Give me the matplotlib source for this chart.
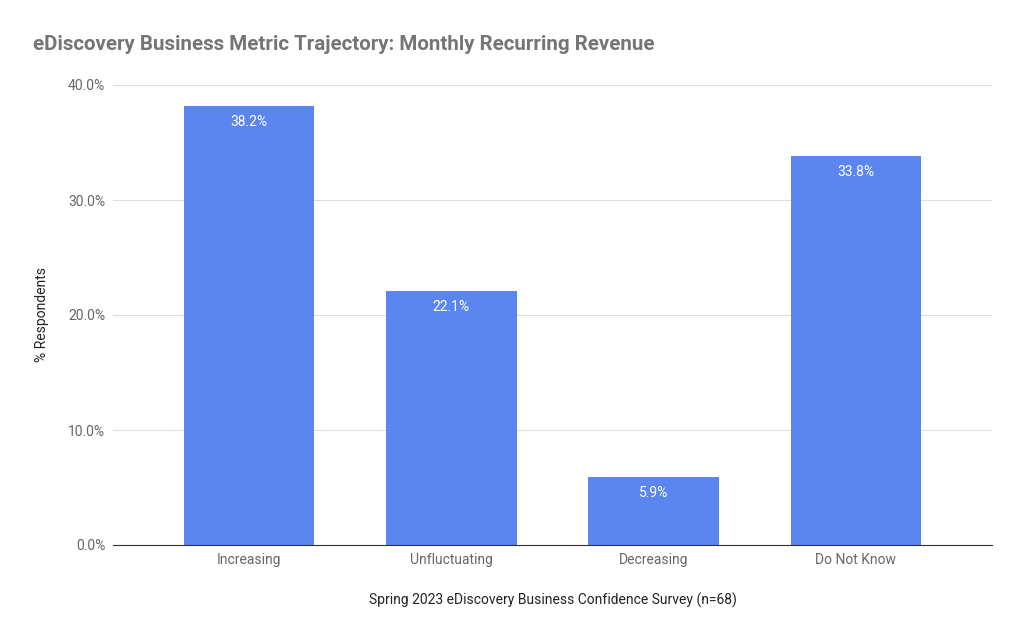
import matplotlib
matplotlib.use("Agg")
import matplotlib.pyplot as plt
from matplotlib.ticker import FuncFormatter

categories = ["Increasing", "Unfluctuating", "Decreasing", "Do Not Know"]
values = [38.2, 22.1, 5.9, 33.8]
yticks = [0, 10, 20, 30, 40]

plt.rcParams['font.family'] = ['Roboto', 'DejaVu Sans']

fig = plt.figure(figsize=(10.24, 6.34), dpi=100)
ax = fig.add_axes([113/1024, 1-545/634, (992-113)/1024, (545-85)/634])

x = list(range(len(categories)))
bars = ax.bar(x, values, width=0.644, color="#5b85ef", zorder=3)
for xi, v in zip(x, values):
    ax.annotate(f"{v:.1f}%", (xi, v), xytext=(0, -6.5), textcoords="offset points",
                ha="center", va="top", color="white", fontsize=10, zorder=4)

ax.set_xlim(-136/202, 3 + 136/202)
ax.set_ylim(0, 40)
ax.set_yticks(yticks)
ax.yaxis.set_major_formatter(FuncFormatter(lambda v, p: f"{v:.1f}%"))
ax.set_xticks(x)
ax.set_xticklabels(categories)
ax.grid(axis="y", color="#dddddd", linewidth=0.8, zorder=0)
for s in ["top", "right", "left"]:
    ax.spines[s].set_visible(False)
ax.spines["bottom"].set_color("#333333")
ax.spines["bottom"].set_linewidth(0.8)
ax.spines["bottom"].set_zorder(5)
ax.tick_params(axis="both", length=0, labelsize=10, labelcolor="#666666")
ax.tick_params(axis="y", pad=5.5)
ax.tick_params(axis="x", pad=6)

ax.set_xlabel("Spring 2023 eDiscovery Business Confidence Survey (n=68)", fontsize=10,
              color="#222222", labelpad=18)
ax.set_ylabel("% Respondents", fontsize=10, color="#222222", labelpad=14)

fig.text(33/1024, 1-45/634, "eDiscovery Business Metric Trajectory: Monthly Recurring Revenue",
         fontsize=14.75, fontweight="bold", color="#757575", ha="left", va="center")

fig.savefig("out.png", dpi=100)
